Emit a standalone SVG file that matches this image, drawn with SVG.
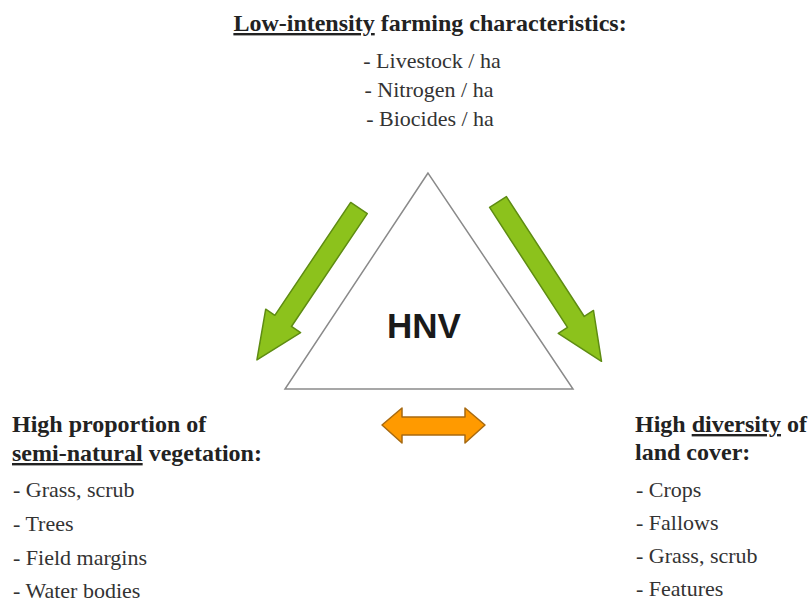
<svg xmlns="http://www.w3.org/2000/svg" width="810" height="603" viewBox="0 0 810 603">
<style>
.b{font-weight:bold;font-size:24px;fill:#222}
.r{font-size:22px;fill:#333}
.u{text-decoration:underline}
.g{fill:#8cc21c;stroke:#5e8c12;stroke-width:1.5;stroke-linejoin:round}
.o{fill:#ff9a00;stroke:#a86a10;stroke-width:1.5;stroke-linejoin:round}
</style>
<rect width="810" height="603" fill="#fff"/>
<g font-family="'Liberation Serif', 'Times New Roman', 'DejaVu Serif', serif">
<g id="top">
<text class="b" x="430" y="31" text-anchor="middle"><tspan class="u">Low-intensity</tspan> farming characteristics:</text>
<text class="r" x="432" y="68" text-anchor="middle">- Livestock / ha</text>
<text class="r" x="429" y="97" text-anchor="middle">- Nitrogen / ha</text>
<text class="r" x="430" y="126" text-anchor="middle">- Biocides / ha</text>
</g>
<g id="left">
<text class="b" x="12" y="432">High proportion of</text>
<text class="b" x="12" y="461"><tspan class="u">semi-natural</tspan> vegetation:</text>
<text class="r" x="13" y="497">- Grass, scrub</text>
<text class="r" x="13" y="531">- Trees</text>
<text class="r" x="13" y="565">- Field margins</text>
<text class="r" x="13" y="598">- Water bodies</text>
</g>
<g id="right">
<text class="b" x="635" y="432">High <tspan class="u">diversity</tspan> of</text>
<text class="b" x="635" y="460">land cover:</text>
<text class="r" x="636" y="497">- Crops</text>
<text class="r" x="636" y="530">- Fallows</text>
<text class="r" x="636" y="563">- Grass, scrub</text>
<text class="r" x="636" y="596">- Features</text>
</g>
</g>
<g id="hnv">
<polygon points="428,173 285,389 573,389" fill="#fff" stroke="#8a8a8a" stroke-width="1.5"/>
<text x="424" y="338" text-anchor="middle" font-family="'Liberation Sans', Arial, sans-serif" font-weight="bold" font-size="35" fill="#1a1a1a">HNV</text>
</g>
<g id="connectors">
<polygon class="g" transform="translate(359,208) rotate(123.9)" points="0,-10 136,-10 136,-21 183,0 136,21 136,10 0,10"/>
<polygon class="g" transform="translate(498,202) rotate(57)" points="0,-10 143,-10 143,-21 190,0 143,21 143,10 0,10"/>
<polygon class="o" points="382,425 402,408 402,417 465,417 465,408 485,425 465,443 465,435 402,435 402,443"/>
</g>
</svg>
